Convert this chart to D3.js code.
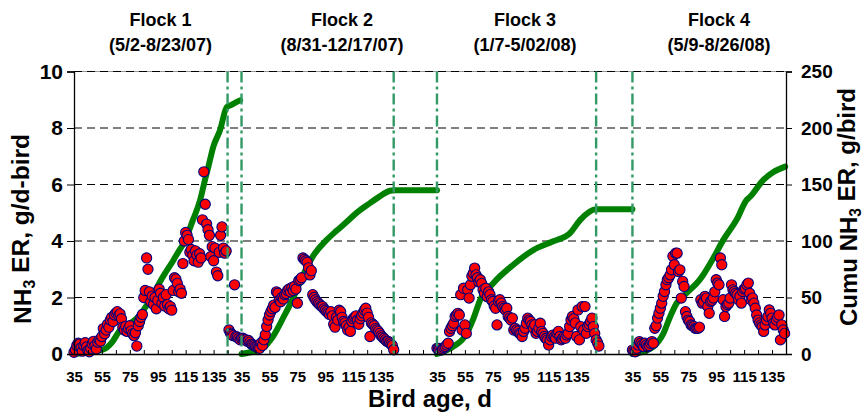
<!DOCTYPE html>
<html>
<head>
<meta charset="utf-8">
<script src="https://cdn.jsdelivr.net/npm/d3@7"></script>
<style>
  html, body { margin: 0; padding: 0; background: #fff; }
  svg { display: block; font-family: Arial, "Liberation Sans", sans-serif; font-weight: bold; }
</style>
</head>
<body>
<svg id="chart" width="864" height="416"></svg>
<script>
// ---- Flocks ---------------------------------------------------------------
const flockNames = ["Flock 1", "Flock 2", "Flock 3", "Flock 4"];
const flockDates = ["(5/2-8/23/07)", "(8/31-12/17/07)", "(1/7-5/02/08)", "(5/9-8/26/08)"];
// day slot on the shared time axis where each flock's first recorded age sits
const flockStartRow = [0, 120, 260, 400];
const firstAge = 35;
// bird age at which each flock was removed (dash-dot marker)
const flockEndAge = [145, 144, 149];
// day slot used to centre each flock heading
const headingRow = [62, 192, 323, 462];
const ageTicks = [35, 55, 75, 95, 115, 135];
const erTicks = [0, 2, 4, 6, 8, 10];
const cumTicks = [0, 50, 100, 150, 200, 250];

// ---- Daily NH3 emission rate, g/d-bird, one value per day from age 35 ----
const erFlock1 = [
  0.06, 0.15, 0.3, 0.38, 0.35, 0.22, 0.1, 0.3, 0.4, 0.25,
  0.12, 0.08, 0.2, 0.35, 0.45, 0.3, 0.18, 0.42, 0.5, 0.45,
  0.62, 0.9, 0.72, 0.85, 1.05, 0.95, 1.2, 1.3, 1.15, 1.38,
  1.45, 1.5, 1.35, 1.42, 1.25, 0.95, 0.85, 0.98, 0.8, 0.9,
  1.0, 0.82, 0.72, 0.65, 0.75, 0.28, 1.0, 1.15, 1.3, 1.4,
  2.0, 2.25, 3.4, 3.0, 2.2, 1.85, 2.05, 1.75, 2.0, 1.6,
  1.9, 2.3, 2.15, 1.8, 2.0, 1.7, 2.1, 1.75, 1.6, 1.68,
  1.55, 2.25, 2.7, 2.65, 2.5, 2.2, 2.3, 2.15, 3.2, 4.0,
  4.3, 4.2, 4.05, 3.6, 3.7, 3.5, 3.3, 3.65, 3.5, 3.25,
  3.55, 3.4, 4.75, 6.45, 5.3, 4.6, 4.4, 4.2, 3.45, 3.8,
  3.3, 3.75, 2.9, 2.77, 3.6, 4.2, 4.5, 3.75, 3.57, 3.65,
  null, 0.85, 0.74, 0.7, 0.65, 2.45, 0.62, 0.6, 0.55, 0.5
];
const erFlock2 = [
  0.55, 0.56, 0.52, 0.5, 0.45, 0.48, 0.42, 0.35, 0.33, 0.3,
  0.27, 0.25, 0.22, 0.2, 0.39, 0.3, 0.5, 0.68, 0.97, 1.2,
  1.38, 1.5, 1.6, 1.73, 1.65, 2.2, 2.15, 1.9, 1.85, 2.0,
  1.95, 2.1, 2.14, 2.25, 2.3, 2.2, 2.35, 2.25, 2.4, 2.3,
  1.8, 2.6, 2.63, 2.7, 3.4, 3.35, 3.3, 3.25, 3.05, 2.8,
  2.95, 2.1, 2.0, 1.92, 1.85, 1.8, 1.75, 1.7, 1.68, 1.6,
  1.55, 1.5, 1.45, 1.4, 1.5, 1.35, 1.05, 0.95, 1.3, 1.2,
  1.55, 1.5, 1.3, 1.15, 1.1, 1.0, 0.85, 0.95, 0.8, 1.15,
  1.25, 1.3, 1.35, 1.2, 1.05, 1.25, 1.35, 1.45, 1.55, 1.62,
  1.45, 1.3, 0.62, 1.1, 1.05, 1.0, 0.9, 0.85, 0.8, 0.73,
  0.65, 0.6, 0.55, 0.5, 0.45, 0.45, 0.4, 0.35, 0.3, 0.15
];
const erFlock3 = [
  0.2, 0.18, 0.2, 0.14, 0.18, 0.22, 0.26, 0.32, 0.38, 0.8,
  0.91, 1.0, 1.09, 1.33, 1.38, 1.44, 1.38, 2.1, 0.85, 2.33,
  1.03, 0.73, 2.27, 1.98, 2.45, 2.75, 2.86, 3.04, 2.8, 2.7,
  2.55, 2.63, 2.5, 2.27, 2.15, 2.33, 2.03, 2.2, 2.1, 1.92,
  1.86, 1.7, 1.62, 1.03, 1.86, 1.92, 1.8, 1.68, 1.62, 1.56,
  1.62, 1.33, 1.27, 1.2, 1.27, 0.85, 0.91, 0.85, 0.8, 0.73,
  0.7, 0.62, 0.8, 0.91, 1.09, 1.27, 1.2, 1.15, 1.03, 0.91,
  1.03, 0.73, 0.8, 0.91, 1.09, 0.8, 0.73, 0.62, 0.55, 0.5,
  0.32, 0.5, 0.62, 0.67, 0.6, 0.56, 0.73, 0.8, 0.62, 0.5,
  0.55, 0.62, 0.56, 0.67, 0.73, 0.97, 1.2, 1.33, 1.25, 1.1,
  0.62, 1.56, 0.5, 0.97, 1.68, 0.85, 1.68, 0.73, 0.97, 1.05,
  1.15, 1.27, 0.97, 0.73, 0.5, 0.4, 0.28
];
const erFlock4 = [
  0.14, 0.1, 0.08, 0.2, 0.32, 0.44, 0.38, 0.32, 0.26, 0.38,
  0.32, 0.26, 0.3, 0.38, 0.44, 0.38, 0.91, 1.0, 1.27, 1.44,
  1.62, 1.8, 2.04, 2.21, 2.45, 2.63, 2.7, 2.8, 2.98, 3.46,
  3.16, 3.57, 3.57, 2.92, 2.98, 1.98, 2.57, 2.39, 1.5, 1.33,
  1.2, 1.15, 1.03, 1.0, 0.97, 0.91, 0.91, 0.91, 0.95, 1.92,
  1.8, 1.85, 2.04, 1.98, 1.68, 1.44, 1.86, 1.9, 1.98, 2.2,
  2.63, 2.51, 2.45, 3.4, 3.16, 1.92, 1.33, 1.68, 1.75, 1.8,
  1.98, 2.45, 2.27, 2.21, 2.15, 2.1, 1.92, 2.04, 1.8, 2.21,
  2.3, 2.33, 2.45, 2.51, 2.15, 1.92, 1.98, 1.8, 1.62, 1.38,
  1.2, 1.1, 1.03, 0.97, 0.8, 1.03, 1.2, 1.33, 1.56, 1.44,
  1.27, 1.09, 1.03, 1.2, 1.3, 1.38, 0.5, 1.03, 0.85, 0.73
];

// ---- Cumulative NH3 emission, g/bird: [bird age, cumulative] --------------
const cumFlock1 = [
  [35, 0], [45, 1.5], [56, 4], [62, 10], [68, 21], [72, 25], [77.5, 29],
  [82, 34], [87, 43], [92, 53], [96.6, 64], [101, 73], [106, 82.5], [110, 91],
  [114.5, 100], [120, 118], [125.3, 136], [128.8, 154], [131.5, 167],
  [134.8, 183.5], [139.6, 198], [144.4, 218.5], [147, 220], [150, 222], [154, 224.5]
];
const cumFlock2 = [
  [35, 0], [43, 2], [50, 5], [57.5, 15.5], [64.6, 31.5], [71.8, 49], [78, 66.8],
  [86.4, 87], [96, 101], [103, 109], [110.4, 117], [118, 125.5], [127, 133.5],
  [134, 139.5], [141.4, 144.5], [145, 145], [175, 145]
];
const cumFlock3 = [
  [35, 0], [46.7, 6.5], [56.3, 18], [61, 31], [66, 48], [75.3, 62.7], [89.7, 79],
  [104, 92], [118.3, 99.7], [130.3, 107], [137.5, 118.5], [148.9, 128], [175, 128]
];
const cumFlock4 = [
  [35, 0], [38, 0.5], [50, 6.5], [57.1, 18], [62, 33], [66.7, 45], [73.9, 54],
  [83.4, 66], [93, 85], [100.1, 101], [109.7, 119], [116.9, 136.5], [119.2, 139],
  [128.8, 154], [136, 161], [144.4, 165.8]
];

const erSeries = [erFlock1, erFlock2, erFlock3, erFlock4];
const cumSeries = [cumFlock1, cumFlock2, cumFlock3, cumFlock4];

// ---- Layout ---------------------------------------------------------------
const svg = d3.select("#chart");
const plot = { left: 74, right: 786, top: 71.5, bottom: 354 };
const lastRow = 510;
const FONT = "Arial, 'Liberation Sans', sans-serif";

const x = d3.scaleLinear().domain([0, lastRow]).range([plot.left, plot.right]);
const yER = d3.scaleLinear().domain([0, 10]).range([plot.bottom, plot.top]);
const yCum = d3.scaleLinear().domain([0, 250]).range([plot.bottom, plot.top]);

const rowOf = (k, age) => flockStartRow[k] + age - firstAge;

// plot-area frame (top edge stays visible above the 10 gridline)
svg.append("line")
  .attr("x1", plot.left).attr("x2", plot.right)
  .attr("y1", yER(10)).attr("y2", yER(10))
  .attr("stroke", "#9a9a9a").attr("stroke-width", 1);

// horizontal dashed gridlines
svg.append("g").selectAll("line")
  .data(erTicks.filter(v => v > 0))
  .join("line")
  .attr("x1", plot.left).attr("x2", plot.right)
  .attr("y1", d => yER(d)).attr("y2", d => yER(d))
  .attr("stroke", "#000").attr("stroke-width", 1)
  .attr("stroke-dasharray", "8,5");

// cumulative emission curves
const cumLine = d3.line()
  .x(d => d[0])
  .y(d => d[1])
  .curve(d3.curveMonotoneX);
svg.append("g").selectAll("path")
  .data(cumSeries.map((s, k) => s.map(([age, c]) => [x(rowOf(k, age)), yCum(c)])))
  .join("path")
  .attr("d", cumLine)
  .attr("fill", "none")
  .attr("stroke", "#008000")
  .attr("stroke-width", 6)
  .attr("stroke-linecap", "round")
  .attr("stroke-linejoin", "round");

// daily emission rate markers
const erPoints = [];
erSeries.forEach((s, k) => s.forEach((v, i) => {
  if (v !== null) erPoints.push({ row: rowOf(k, firstAge + i), v });
}));
svg.append("g").selectAll("circle")
  .data(erPoints)
  .join("circle")
  .attr("cx", d => x(d.row))
  .attr("cy", d => yER(d.v))
  .attr("r", 5.1)
  .attr("fill", "#ff0000")
  .attr("stroke", "#000080")
  .attr("stroke-width", 1.1);

// flock boundaries: removal and placement
const boundaryRows = [];
flockEndAge.forEach((a, k) => boundaryRows.push(rowOf(k, a)));
flockStartRow.slice(1).forEach(r => boundaryRows.push(r));
svg.append("g").selectAll("line")
  .data(boundaryRows)
  .join("line")
  .attr("x1", d => x(d)).attr("x2", d => x(d))
  .attr("y1", plot.top).attr("y2", plot.bottom)
  .attr("stroke", "#339966").attr("stroke-width", 2.4)
  .attr("stroke-dasharray", "11,4,3,4");

// ---- Axes -----------------------------------------------------------------
const ageLabel = new Map();
flockStartRow.forEach(s => ageTicks.forEach(a => ageLabel.set(s + a - firstAge, String(a))));

const xAxis = d3.axisBottom(x)
  .tickValues(d3.range(0, lastRow + 1, 10))
  .tickSizeInner(-4).tickSizeOuter(0).tickPadding(17)
  .tickFormat(r => ageLabel.get(r) || "");
const gx = svg.append("g").attr("transform", `translate(0,${plot.bottom})`).call(xAxis);
gx.select(".domain").attr("stroke", "#000").attr("stroke-width", 1.3);
gx.selectAll(".tick line").attr("stroke", "#000").attr("stroke-width", 1);
gx.selectAll(".tick text").attr("font-size", 15).attr("font-family", FONT)
  .attr("font-weight", "bold").attr("fill", "#000");

const yAxisL = d3.axisLeft(yER).tickValues(erTicks).tickSize(7).tickPadding(4).tickFormat(d3.format("d"));
const gl = svg.append("g").attr("transform", `translate(${plot.left},0)`).call(yAxisL);
gl.select(".domain").attr("stroke", "#000").attr("stroke-width", 1.3);
gl.selectAll(".tick line").attr("stroke", "#000");
gl.selectAll(".tick text").attr("font-size", 21).attr("font-family", FONT)
  .attr("font-weight", "bold").attr("fill", "#000");

const yAxisR = d3.axisRight(yCum).tickValues(cumTicks).tickSize(6).tickPadding(9).tickFormat(d3.format("d"));
const gr = svg.append("g").attr("transform", `translate(${plot.right},0)`).call(yAxisR);
gr.select(".domain").attr("stroke", "#000").attr("stroke-width", 1.3);
gr.selectAll(".tick line").attr("stroke", "#000");
gr.selectAll(".tick text").attr("font-size", 19).attr("font-family", FONT)
  .attr("font-weight", "bold").attr("fill", "#000");

// ---- Titles ---------------------------------------------------------------
const heads = svg.append("g").attr("text-anchor", "middle").attr("fill", "#000");
heads.selectAll("text.name")
  .data(flockNames).join("text").attr("class", "name")
  .attr("x", (d, k) => x(headingRow[k])).attr("y", 26)
  .attr("font-size", 18).text(d => d);
heads.selectAll("text.date")
  .data(flockDates).join("text").attr("class", "date")
  .attr("x", (d, k) => x(headingRow[k])).attr("y", 50.5)
  .attr("font-size", 18).text(d => d);

svg.append("text")
  .attr("x", 430).attr("y", 407)
  .attr("text-anchor", "middle").attr("font-size", 24)
  .text("Bird age, d");

function sub3(sel, pre, post) {
  sel.append("tspan").text(pre);
  sel.append("tspan").attr("font-size", "65%").attr("dy", "0.25em").text("3");
  sel.append("tspan").attr("dy", "-0.25em").text(post);
}
const tl = svg.append("text")
  .attr("transform", "translate(31,229) rotate(-90)")
  .attr("text-anchor", "middle").attr("font-size", 24.5);
sub3(tl, "NH", " ER, g/d-bird");

const tr = svg.append("text")
  .attr("transform", "translate(857,207) rotate(-90)")
  .attr("text-anchor", "middle").attr("font-size", 24);
sub3(tr, "Cumu NH", " ER, g/bird");
</script>
</body>
</html>
